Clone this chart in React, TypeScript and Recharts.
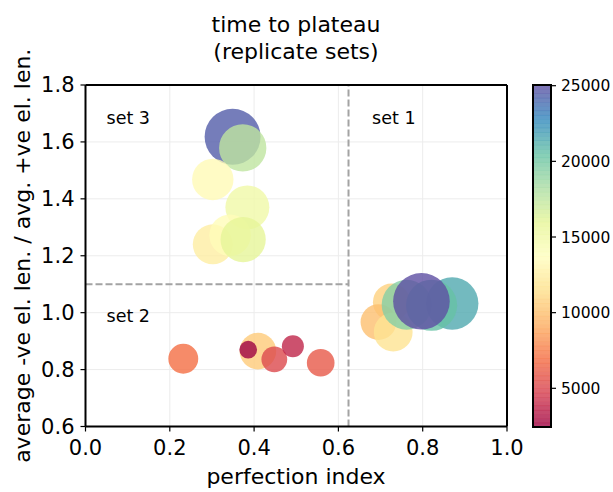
import React from 'react';
import {
  ScatterChart,
  Scatter,
  XAxis,
  YAxis,
  ZAxis,
  CartesianGrid,
  ReferenceLine,
  Cell,
} from 'recharts';

// ---- data ----
const perfection = [
  0.349, 0.373, 0.302, 0.384, 0.302, 0.343, 0.374,
  0.726, 0.695, 0.730, 0.762, 0.870, 0.821, 0.797,
  0.232, 0.409, 0.386, 0.448, 0.492, 0.558,
];
const lenRatio = [
  1.618, 1.579, 1.468, 1.370, 1.240, 1.272, 1.257,
  1.037, 0.967, 0.932, 1.028, 1.032, 1.026, 1.040,
  0.838, 0.865, 0.870, 0.836, 0.882, 0.824,
];
const plateauTime = [
  24500, 17500, 13400, 15100, 12500, 13500, 16000,
  10800, 10000, 11800, 19500, 21500, 20500, 25046,
  7000, 10500, 2443, 5200, 3800, 6000,
];
const xTicks = [0, 0.2, 0.4, 0.6, 0.8, 1.0];
const yTicks = [0.6, 0.8, 1.0, 1.2, 1.4, 1.6, 1.8];
const cbTicks = [5000, 10000, 15000, 20000, 25000];
const setNames = ['set 3', 'set 1', 'set 2'];
const setX = [0.05, 0.68, 0.05];
const setY = [1.663, 1.663, 0.966];
const dividerX = 0.624;
const dividerY = 1.1;
const timeMin = 2443;
const timeMax = 25046;

const SPECTRAL = [
  '#9e0142', '#d53e4f', '#f46d43', '#fdae61', '#fee08b', '#ffffbf',
  '#e6f598', '#abdda4', '#66c2a5', '#3288bd', '#5e4fa2',
];

function hexToRgb(h: string) {
  return [parseInt(h.slice(1, 3), 16), parseInt(h.slice(3, 5), 16), parseInt(h.slice(5, 7), 16)];
}
function spectral(t: number) {
  const u = Math.max(0, Math.min(1, t)) * (SPECTRAL.length - 1);
  const i = Math.min(Math.floor(u), SPECTRAL.length - 2);
  const f = u - i;
  const a = hexToRgb(SPECTRAL[i]);
  const b = hexToRgb(SPECTRAL[i + 1]);
  const c = a.map((v, k) => Math.round(v + (b[k] - v) * f));
  return `rgb(${c[0]},${c[1]},${c[2]})`;
}
const colorOf = (v: number) => spectral((v - timeMin) / (timeMax - timeMin));

const points = perfection.map((x, i) => ({ x, y: lenRatio[i], time: plateauTime[i] }));
const labels = setNames.map((name, i) => ({ x: setX[i], y: setY[i], name }));

const FONT = '"DejaVu Sans", Verdana, sans-serif';
const ALPHA = 0.8;
const MAX_R = 28.3;

// geometry of plot
const PLOT_TOP = 85;
const PLOT_BOTTOM = 426.5;
const PLOT_LEFT = 85.5;
const PLOT_RIGHT = 507;
const W = 613;
const H = 492;

// colorbar geometry
const CB_X = 533;
const CB_W = 18;
const CB_TOP = 85;
const CB_BOTTOM = 427;
const cbY = (v: number) => CB_BOTTOM - ((v - timeMin) / (timeMax - timeMin)) * (CB_BOTTOM - CB_TOP);

const LabelShape = (props: any) => {
  const { cx, cy, payload } = props;
  return (
    <text x={cx} y={cy} fontSize={17.5} fontFamily={FONT} fill="#000">
      {payload.name}
    </text>
  );
};

function Colorbar() {
  const n = 80;
  const rects = [];
  for (let i = 0; i < n; i++) {
    const v0 = timeMin + ((timeMax - timeMin) * i) / n;
    const v1 = timeMin + ((timeMax - timeMin) * (i + 1)) / n;
    const vm = (v0 + v1) / 2;
    rects.push(
      <rect
        key={i}
        x={CB_X}
        y={cbY(v1)}
        width={CB_W}
        height={cbY(v0) - cbY(v1) + 0.4}
        fill={colorOf(vm)}
        fillOpacity={ALPHA}
      />
    );
  }
  return (
    <g>
      {rects}
      <rect x={CB_X} y={CB_TOP} width={CB_W} height={CB_BOTTOM - CB_TOP} fill="none" stroke="#000" strokeWidth={2} />
      {cbTicks.map((t) => (
        <g key={t}>
          <line x1={CB_X + CB_W} x2={CB_X + CB_W + 5} y1={cbY(t)} y2={cbY(t)} stroke="#000" strokeWidth={1.2} />
          <text x={CB_X + CB_W + 10} y={cbY(t)} dy="0.36em" fontSize={15.5} fontFamily={FONT} fill="#000">
            {t}
          </text>
        </g>
      ))}
    </g>
  );
}

export default function App() {
  const yAxisW = 60;
  const xAxisH = 30;
  return (
    <div style={{ position: 'absolute', left: 0, top: 0, width: W, height: H, background: '#fff' }}>
      <ScatterChart
        width={W}
        height={H}
        margin={{
          top: PLOT_TOP,
          right: W - PLOT_RIGHT,
          bottom: H - PLOT_BOTTOM - xAxisH,
          left: PLOT_LEFT - yAxisW,
        }}
      >
        <CartesianGrid stroke="#ececec" strokeWidth={1} horizontalValues={yTicks} verticalValues={xTicks} />
        <XAxis
          type="number"
          dataKey="x"
          domain={[0, 1]}
          ticks={xTicks}
          allowDataOverflow
          height={xAxisH}
          tickSize={5}
          tickMargin={9}
          tickFormatter={(v: number) => v.toFixed(1)}
          tick={{ fontSize: 21, fontFamily: FONT, fill: '#000' }}
          axisLine={{ stroke: '#000', strokeWidth: 2 }}
          tickLine={{ stroke: '#000', strokeWidth: 1.2 }}
        />
        <YAxis
          type="number"
          dataKey="y"
          domain={[0.6, 1.8]}
          ticks={yTicks}
          allowDataOverflow
          width={yAxisW}
          tickSize={5}
          tickMargin={6}
          tickFormatter={(v: number) => v.toFixed(1)}
          tick={{ fontSize: 21, fontFamily: FONT, fill: '#000' }}
          axisLine={{ stroke: '#000', strokeWidth: 2 }}
          tickLine={{ stroke: '#000', strokeWidth: 1.2 }}
        />
        <ZAxis type="number" dataKey="time" domain={[0, timeMax]} range={[0, Math.PI * MAX_R * MAX_R]} />
        <ReferenceLine x={dividerX} stroke="#a3a3a3" strokeWidth={2} strokeDasharray="7 3" />
        <ReferenceLine
          segment={[
            { x: 0, y: dividerY },
            { x: dividerX, y: dividerY },
          ]}
          stroke="#a3a3a3"
          strokeWidth={2}
          strokeDasharray="7 3"
        />
        <Scatter data={points} isAnimationActive={false} shape="circle">
          {points.map((p, i) => (
            <Cell key={i} fill={colorOf(p.time)} fillOpacity={ALPHA} stroke="none" />
          ))}
        </Scatter>
        <Scatter data={labels} isAnimationActive={false} shape={LabelShape} />
        <ReferenceLine y={1.8} stroke="#000" strokeWidth={2} />
        <ReferenceLine x={1} stroke="#000" strokeWidth={2} />
      </ScatterChart>
      <svg
        width={W}
        height={H}
        style={{ position: 'absolute', left: 0, top: 0, pointerEvents: 'none' }}
      >
        <text x={296} y={32} textAnchor="middle" fontSize={22} fontFamily={FONT} fill="#000">
          time to plateau
        </text>
        <text x={296} y={58.6} textAnchor="middle" fontSize={22} fontFamily={FONT} fill="#000">
          (replicate sets)
        </text>
        <text x={296} y={484} textAnchor="middle" fontSize={22} fontFamily={FONT} fill="#000">
          perfection index
        </text>
        <text
          x={0}
          y={0}
          transform={`translate(30, ${(PLOT_TOP + PLOT_BOTTOM) / 2}) rotate(-90)`}
          textAnchor="middle"
          fontSize={22}
          fontFamily={FONT}
          fill="#000"
        >
          average -ve el. len. / avg. +ve el. len.
        </text>
        <Colorbar />
      </svg>
    </div>
  );
}
